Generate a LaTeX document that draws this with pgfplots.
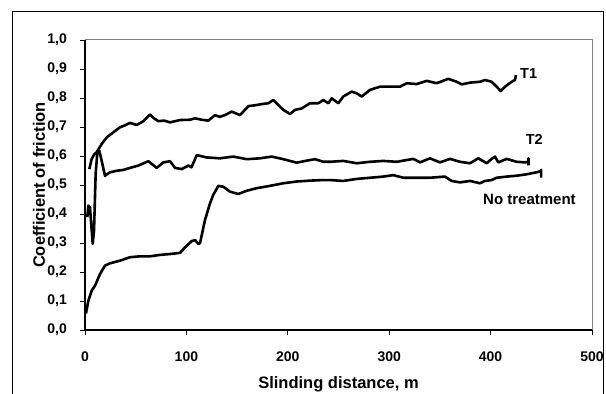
\documentclass[border=0pt]{standalone}
\usepackage{fontspec}
\setmainfont{Liberation Sans}
\usepackage{pgfplots}
\pgfplotsset{compat=1.18}
\usepackage{pgfplotstable}

\pgfplotstableread{
x y
4.3 0.555
6.6 0.59
9 0.605
11.5 0.613
16.4 0.641
21.4 0.664
28 0.682
34.5 0.699
39 0.705
44.4 0.714
51 0.707
57.6 0.72
64 0.743
68 0.73
72.4 0.72
78 0.722
83.9 0.716
93.8 0.724
103.6 0.725
108.5 0.73
115 0.725
121.6 0.722
128.2 0.741
133 0.735
138 0.741
144.7 0.753
152.9 0.741
161.2 0.772
168 0.775
174.3 0.779
180.9 0.782
185.7 0.793
190.6 0.776
195.6 0.759
202.2 0.745
207.1 0.759
213.7 0.764
221.9 0.782
230.1 0.782
235 0.793
240 0.782
243.3 0.799
249.8 0.782
254.7 0.805
263 0.822
268 0.816
272.9 0.805
281.1 0.828
290.9 0.839
300.8 0.839
310.7 0.839
317.3 0.851
327.1 0.848
337 0.859
346.8 0.851
358.3 0.866
366.5 0.856
371.5 0.847
379.7 0.853
389.5 0.856
394.5 0.862
401 0.856
406 0.839
410 0.824
414.2 0.839
420.8 0.856
424 0.862
425 0.879
}\tone

\pgfplotstableread{
x y
2.3 0.389
3.3 0.429
4.9 0.423
5.9 0.377
7.6 0.297
8.9 0.343
10.5 0.538
12.2 0.613
14.1 0.618
16.4 0.584
19.7 0.532
24.7 0.544
31.3 0.549
37.8 0.552
44.4 0.559
52.6 0.567
62.5 0.582
70.7 0.559
77.3 0.578
83.9 0.582
88.8 0.559
95.4 0.555
102 0.567
105 0.561
110.2 0.603
120 0.595
133.1 0.592
146.3 0.598
159.5 0.589
172.6 0.592
184.1 0.598
195.6 0.589
208.8 0.577
218.6 0.584
226.8 0.589
235 0.58
241.6 0.58
254.7 0.583
268 0.575
281.1 0.58
294.2 0.583
307.4 0.58
323.8 0.59
330.4 0.578
340.2 0.592
350.1 0.578
360 0.59
369.8 0.58
379.7 0.575
387.9 0.592
396.1 0.575
401 0.59
404.3 0.598
407.6 0.578
415.9 0.59
425.7 0.58
433.9 0.578
437.2 0.58
437.4 0.592
437.4 0.568
}\ttwo

\pgfplotstableread{
x y
1 0.057
3.3 0.101
6.6 0.136
9.9 0.153
14.8 0.193
19.7 0.222
24.7 0.23
34.5 0.239
44.4 0.251
54 0.254
64 0.254
74 0.259
84 0.262
93.8 0.266
98.7 0.285
105 0.306
108.6 0.31
111.8 0.297
113.5 0.3
118.3 0.379
123.3 0.437
126.5 0.466
131.5 0.497
136.4 0.494
143 0.477
151.2 0.469
159.4 0.48
169.3 0.489
182.4 0.497
195.6 0.506
208.8 0.512
221.9 0.515
235 0.517
241.6 0.517
254.7 0.514
268 0.521
281.1 0.525
294.2 0.529
304 0.534
313.9 0.525
327.1 0.525
340.2 0.525
355 0.529
361.6 0.514
369.8 0.509
379.7 0.514
389.5 0.506
394.5 0.514
401 0.517
406 0.525
415.9 0.529
425.7 0.532
435.6 0.537
445.5 0.544
449.7 0.548
449.9 0.552
449.9 0.525
}\nt

\begin{document}
\begin{tikzpicture}
\path[use as bounding box] (0,0) rectangle (606bp,394bp);
\draw[line width=1bp] (12.5bp,-2bp) -- (12.5bp,382.5bp) -- (603.5bp,382.5bp) -- (603.5bp,-2bp);
\begin{axis}[
  at={(85bp,64bp)}, anchor=south west,
  scale only axis, width=507bp, height=290bp,
  xmin=0, xmax=500, ymin=0, ymax=1,
  axis x line*=bottom, axis y line*=left,
  axis line style={-, line width=1.3bp, black},
  xtick={0,100,...,500},
  ytick={0,0.1,...,1.0},
  tick align=outside, major tick length=5bp,
  tick style={line width=0.9bp, black},
  /pgf/number format/assume math mode=true,
  yticklabel style={anchor=east, inner sep=0pt, xshift=-13bp,
    /pgf/number format/fixed, /pgf/number format/fixed zerofill,
    /pgf/number format/precision=1, /pgf/number format/use comma},
  xticklabel style={anchor=north, inner sep=0pt, yshift=-16.5bp,
    /pgf/number format/fixed, /pgf/number format/precision=0},
  ticklabel style={font=\fontsize{14bp}{16bp}\selectfont\bfseries},
  label style={font=\fontsize{16.5bp}{18bp}\selectfont\bfseries},
  xlabel={Slinding distance, m},
  ylabel={Coefficient of friction},
  xlabel style={at={(axis description cs:0.5,-0.2)}, anchor=base, inner sep=0pt},
  ylabel style={at={(axis description cs:-0.079,0.5)}, anchor=base, inner sep=0pt},
  clip=false,
]
\draw[line width=1bp, gray] (rel axis cs:0,1) -- (rel axis cs:1,1) -- (rel axis cs:1,0);
\addplot[black, line width=2.6bp, line join=round] table {\tone};
\addplot[black, line width=2.6bp, line join=round] table {\ttwo};
\addplot[black, line width=2.6bp, line join=round] table {\nt};
\node[anchor=base west, inner sep=0pt, font=\fontsize{14.5bp}{16bp}\selectfont\bfseries] at (axis cs:429,0.868) {T1};
\node[anchor=base west, inner sep=0pt, font=\fontsize{14.5bp}{16bp}\selectfont\bfseries] at (axis cs:434.6,0.638) {T2};
\node[anchor=base west, inner sep=0pt, font=\fontsize{15bp}{16bp}\selectfont\bfseries] at (axis cs:392.5,0.434) {No treatment};
\end{axis}
\end{tikzpicture}
\end{document}
